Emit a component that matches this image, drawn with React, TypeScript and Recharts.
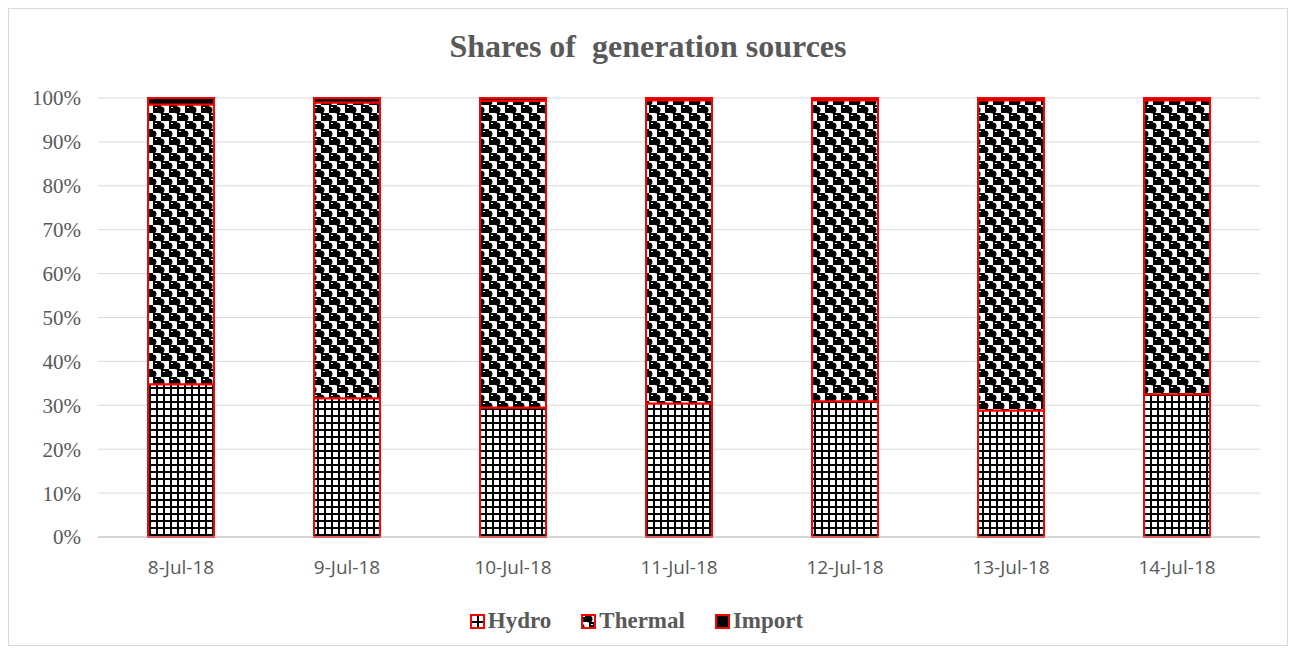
import { BarChart, Bar, XAxis, YAxis, CartesianGrid, Legend } from 'recharts'

const dates = ['8-Jul-18', '9-Jul-18', '10-Jul-18', '11-Jul-18', '12-Jul-18', '13-Jul-18', '14-Jul-18']
const hydro = [34.8, 31.6, 29.5, 30.4, 30.9, 28.8, 32.5]
const thermal = [63.7, 67.4, 69.9, 69.1, 68.6, 70.7, 67.0]
const imports = [1.5, 1.0, 0.6, 0.5, 0.5, 0.5, 0.5]
const yTicks = [0, 10, 20, 30, 40, 50, 60, 70, 80, 90, 100]

const chartData = dates.map((d, i) => ({
  date: d,
  Hydro: hydro[i],
  Thermal: thermal[i],
  Import: imports[i],
}))

const serif = '"Liberation Serif", "DejaVu Serif", serif'
const grey = '#595959'

const legendItems = [
  { name: 'Hydro', fill: 'url(#hydroPat)' },
  { name: 'Thermal', fill: 'url(#thermalPat)' },
  { name: 'Import', fill: '#000' },
]

function ChartLegend() {
  return (
    <div style={{ display: 'flex', justifyContent: 'center', gap: 30, fontFamily: serif, fontWeight: 'bold', fontSize: 23, color: grey, paddingLeft: 4 }}>
      {legendItems.map(item => (
        <span key={item.name} style={{ display: 'flex', alignItems: 'center', gap: 3 }}>
          <svg width={15} height={15}>
            <rect x={1} y={1} width={13} height={13} fill={item.fill} stroke="#ff0000" strokeWidth={2} />
          </svg>
          {item.name}
        </span>
      ))}
    </div>
  )
}

export default function App() {
  return (
    <div style={{ position: 'relative', width: 1278, height: 636, border: '1px solid #d9d9d9', background: '#fff' }}>
      <svg width={0} height={0} style={{ position: 'absolute' }}>
        <defs>
          <pattern id="hydroPat" width={7} height={7} patternUnits="userSpaceOnUse">
            <rect width={7} height={7} fill="#fff" />
            <rect x={0} y={0} width={7} height={2} fill="#000" />
            <rect x={0} y={0} width={2} height={7} fill="#000" />
          </pattern>
          <pattern id="thermalPat" width={16} height={16} patternUnits="userSpaceOnUse">
            <rect width={16} height={16} fill="#fff" />
            <rect x={0} y={0} width={8} height={8} fill="#000" />
            <rect x={8} y={8} width={8} height={8} fill="#000" />
            <circle cx={8} cy={5} r={3.5} fill="#000" />
            <circle cx={0} cy={13} r={3.5} fill="#000" />
            <circle cx={16} cy={13} r={3.5} fill="#000" />
            <rect x={2} y={2} width={2} height={1} fill="#fff" />
            <rect x={10} y={10} width={2} height={1} fill="#fff" />
          </pattern>
        </defs>
      </svg>
      <div style={{ position: 'absolute', top: 19, width: '100%', textAlign: 'center', fontFamily: serif, fontWeight: 'bold', fontSize: 32, color: grey, whiteSpace: 'pre' }}>
        Shares of  generation sources
      </div>
      <BarChart width={1278} height={634} data={chartData} margin={{ top: 89, right: 27, bottom: 9, left: 0 }}>
        <CartesianGrid vertical={false} stroke="#d9d9d9" />
        <XAxis
          dataKey="date"
          axisLine={{ stroke: '#bfbfbf' }}
          tickLine={false}
          height={71}
          tick={{ fill: grey, fontSize: 19, fontFamily: '"Open Sans", sans-serif', dy: 16 }}
        />
        <YAxis
          width={89}
          domain={[0, 100]}
          ticks={yTicks}
          interval={0}
          axisLine={false}
          tickLine={false}
          tickFormatter={(v: number) => `${v}%`}
          tick={{ fill: grey, fontSize: 21, fontFamily: serif, dx: -9 }}
        />
        <Legend content={<ChartLegend />} verticalAlign="bottom" height={26} />
        <Bar dataKey="Hydro" stackId="a" fill="url(#hydroPat)" stroke="#ff0000" strokeWidth={2} barSize={66} isAnimationActive={false} />
        <Bar dataKey="Thermal" stackId="a" fill="url(#thermalPat)" stroke="#ff0000" strokeWidth={2} barSize={66} isAnimationActive={false} />
        <Bar dataKey="Import" stackId="a" fill="#000" stroke="#ff0000" strokeWidth={2} barSize={66} isAnimationActive={false} />
      </BarChart>
    </div>
  )
}
